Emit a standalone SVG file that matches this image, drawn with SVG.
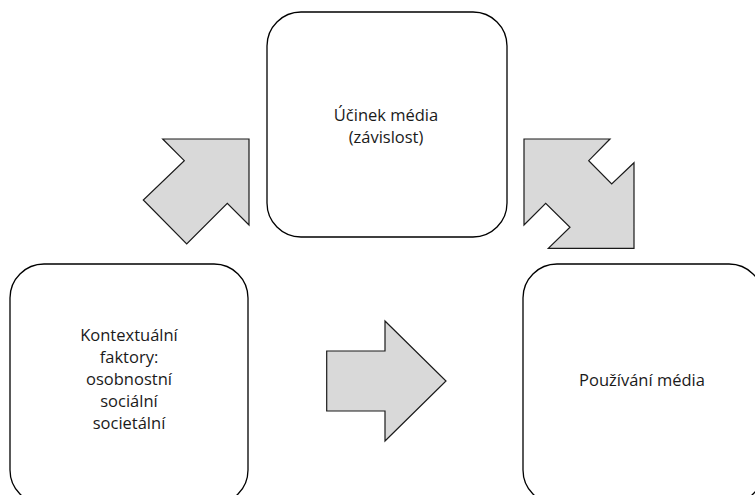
<svg xmlns="http://www.w3.org/2000/svg" width="755" height="495" viewBox="0 0 755 495">
<style>
.box{fill:#fff;stroke:#000;stroke-width:1.3}
.arr{fill:#d9d9d9;stroke:#1a1a1a;stroke-width:1.2;stroke-linejoin:miter}
text{font-family:"Open Sans","Noto Sans",sans-serif;font-size:16.5px;fill:#1a1a1a;text-anchor:middle}
</style>
<rect width="755" height="495" fill="#fff"/>
<g id="connectors">
<polygon class="arr" points="162.7,139 249,139 249,225 227.3,203.3 186.7,244 143.3,200 184.3,160.7"/>
<polygon class="arr" points="524,139 610,139 588.7,160.7 611.7,184 634,162.7 634,248.3 548.3,248.3 570,227.3 545.7,203.3 524,225"/>
<polygon class="arr" points="326.7,351 385,351 385,321 446,381 385,441 385,411 326.7,411"/>
</g>
<g id="node-ucinek">
<rect class="box" x="267" y="12" width="240" height="225" rx="34"/>
<text x="386" y="121">Účinek média</text>
<text x="386" y="143">(závislost)</text>
</g>
<g id="node-kontext">
<rect class="box" x="10" y="264" width="238" height="240" rx="34"/>
<text x="129" y="341">Kontextuální</text>
<text x="129" y="363">faktory:</text>
<text x="129" y="385">osobnostní</text>
<text x="129" y="407">sociální</text>
<text x="129" y="429">societální</text>
</g>
<g id="node-pouzivani">
<rect class="box" x="523" y="264" width="240" height="240" rx="34"/>
<text x="642" y="386">Používání média</text>
</g>
</svg>
